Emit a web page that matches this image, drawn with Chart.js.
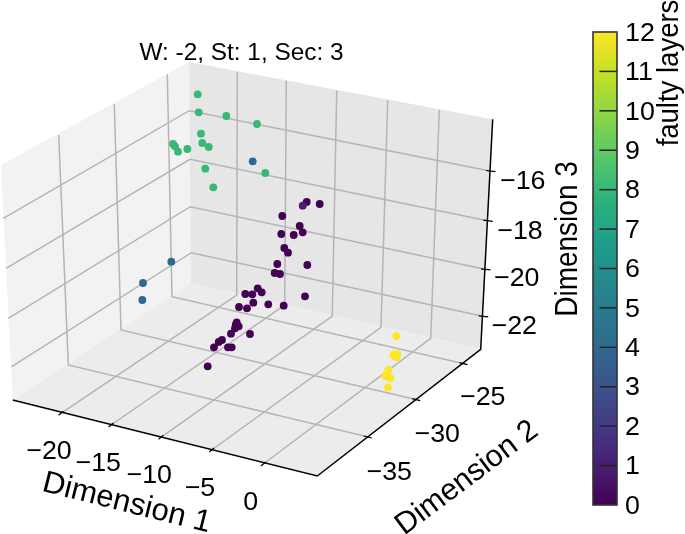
<!DOCTYPE html>
<html><head><meta charset="utf-8">
<style>html,body{margin:0;padding:0;background:#fff}canvas{display:block}</style>
<script src="https://cdn.jsdelivr.net/npm/chart.js@4"></script>
</head><body><canvas id="c" width="685" height="534" style="width:685px;height:534px"></canvas>
<script>
// Picture-plane readings of every point (the 3D scene is shown as projected on the page)
const pointX = [197.7,198.7,226.3,257,201,202.3,208.7,173,175,178,187.3,205.3,213.3,265.3,
  252.7,171.3,143,142.3,
  306.7,302.7,319.7,282.3,299.7,302.7,293.7,281.3,284.3,288,277.3,307.3,274.7,280,257.7,261.7,245.3,252.3,305,253.3,268.3,283.7,239,247,236.7,235.7,238.7,235,231,250,222,218.7,214,228,231.7,207.7,
  396.3,393.3,397.3,396.7,395.3,388.3,385.3,390.3,388];
const pointY = [94.3,112.3,116,124,133.7,143,147,144,146.3,151.7,149,168.7,187.3,173,
  161.3,261.7,283,300,
  202,205.7,204,216,226,232.3,235,234,248,252.7,264,265,273,274,288.3,292.3,294,294.3,296.3,302.7,304.3,305.7,307,308.3,322.3,325,326.3,328.3,333.7,334,340,342,347.3,347.3,347.3,366.3,
  336,354.7,354,357.3,355.7,370,376,378,387.3];
const faultyLayers = [8,8,8,8,8,8,8,8,8,8,8,8,8,8,
  4,4,4,4,
  0,1,0,0,0,0,0,0,0,0,0,0,0,0,0,0,0,0,0,0,0,0,0,0,0,0,0,0,0,0,0,0,0,0,0,0,
  12,12,12,12,12,12,12,12,12];
const dim1Ticks = ["\u221220","\u221215","\u221210","\u22125","0"];
const dim2Ticks = ["\u221235","\u221230","\u221225"];
const dim3Ticks = ["\u221216","\u221218","\u221220","\u221222"];
const viridis = ["#440154","#482173","#433e85","#38598c","#2d708e","#25858e","#1e9b8a","#2ab07f","#52c569","#86d549","#c2df23","#fde725"];

const FONT = '"Liberation Sans", Arial, sans-serif';
function hex(c){return [1,3,5].map(i=>parseInt(c.substr(i,2),16));}
function colorAt(v){
  const t = v/12*(viridis.length-1), i = Math.min(Math.floor(t),viridis.length-2), f = t-i;
  const a = hex(viridis[i]), b = hex(viridis[i+1]);
  return 'rgb('+a.map((p,k)=>Math.round(p+(b[k]-p)*f)).join(',')+')';
}

// Frame of the 3D box in page coordinates
const frame = {
  left:[[1,165],[189,62],[191,283],[12.7,400]],
  back:[[189,62],[492.7,119.3],[480.7,349.3],[191,283]],
  floor:[[12.7,400],[191,283],[480.7,349.3],[317.3,476]],
  axis:[[12.7,400],[317.3,476],[480.7,349.3],[492.7,119.3]],
  d1Edge:[[61,413.3],[111,425],[161,437.3],[211.7,450],[263.3,464]],
  d1Floor:[[236.7,295],[284.7,305],[332.3,316],[381,327.3],[430.7,338.3]],
  d1Top:[[237.3,71.7],[286.3,80.7],[336.7,90.7],[387.7,100.3],[439.3,110]],
  d2Edge:[[369.3,437.3],[417.7,400],[465,364]],
  d2Floor:[[68.3,365],[121,330],[172,296.7]],
  d2Top:[[58.7,135],[114.3,104],[167.3,74.3]],
  d3Right:[[490,171],[487.3,220.7],[485,269.3],[482.7,316.3]],
  d3Corner:[[189.3,110.7],[190,159.3],[190.3,206.7],[191.3,252.7]],
  d3Left:[[3.3,218.3],[6,268.3],[8.3,318.3],[11.7,366.7]],
  d1Lab:[[49,452],[98.3,463.7],[149.3,476.3],[200,489],[250.7,502.7]],
  d2Lab:[[389.3,472.7],[437.3,434.7],[482.7,398]],
  d3Lab:[[522.7,182],[520,232],[516.7,279.3],[514.3,327]]
};

const scene = {
  id:'scene',
  beforeDatasetsDraw(chart){
    const {ctx,scales:{x,y,cb}} = chart;
    const P = p=>[x.getPixelForValue(p[0]),y.getPixelForValue(p[1])];
    const poly=(pts,col)=>{ctx.beginPath();pts.map(P).forEach((p,i)=>i?ctx.lineTo(p[0],p[1]):ctx.moveTo(p[0],p[1]));ctx.closePath();ctx.fillStyle=col;ctx.fill();};
    const path=(pts,col,w)=>{ctx.beginPath();pts.map(P).forEach((p,i)=>i?ctx.lineTo(p[0],p[1]):ctx.moveTo(p[0],p[1]));ctx.strokeStyle=col;ctx.lineWidth=w;ctx.stroke();};
    ctx.save();
    poly(frame.left,'#f2f2f2');poly(frame.back,'#e6e6e6');poly(frame.floor,'#ececec');
    const g='#b4b4b4', gw=1.5;
    frame.d1Edge.forEach((e,i)=>path([e,frame.d1Floor[i],frame.d1Top[i]],g,gw));
    frame.d2Edge.forEach((e,i)=>path([e,frame.d2Floor[i],frame.d2Top[i]],g,gw));
    frame.d3Right.forEach((e,i)=>path([e,frame.d3Corner[i],frame.d3Left[i]],g,gw));
    path(frame.axis,'#000',1.5);
    frame.d1Edge.forEach(e=>path([[e[0]-2.4,e[1]+2],[e[0]+2.4,e[1]-2]],'#000',1.2));
    frame.d2Edge.forEach(e=>path([[e[0]-5.5,e[1]-1.3],[e[0]+2.5,e[1]+.7]],'#000',1.2));
    frame.d3Right.forEach(e=>path([[e[0]-4,e[1]-.5],[e[0]+5.5,e[1]+.6]],'#000',1.2));

    // colour bar
    const tx=x.getPixelForValue(593), rx=x.getPixelForValue(617);
    const top=cb.getPixelForValue(12), bot=cb.getPixelForValue(0);
    const gr=ctx.createLinearGradient(0,bot,0,top);
    for(let v=0;v<=12;v+=.25) gr.addColorStop(v/12,colorAt(v));
    ctx.fillStyle=gr;ctx.fillRect(tx,top,rx-tx,bot-top);
    ctx.strokeStyle='#222';ctx.lineWidth=1.5;
    for(let v=1;v<12;v++){const py=cb.getPixelForValue(v);ctx.beginPath();ctx.moveTo(rx,py);ctx.lineTo(rx-17.5,py);ctx.stroke();}
    ctx.strokeStyle='#333';ctx.lineWidth=1.6;ctx.strokeRect(tx,top,rx-tx,bot-top);

    // text, with a per-label horizontal stretch
    ctx.fillStyle='#000';ctx.textAlign='center';ctx.textBaseline='middle';
    const text=(s,cx,cy,size,rot,sx)=>{ctx.save();ctx.translate(cx,cy);ctx.scale(sx||1,1);ctx.rotate((rot||0)*Math.PI/180);ctx.font=size+'px '+FONT;ctx.fillText(s,0,0);ctx.restore();};
    text('W: -2, St: 1, Sec: 3',241.5,53,24.4);
    dim1Ticks.forEach((s,i)=>text(s,frame.d1Lab[i][0],frame.d1Lab[i][1],26,0,1.03));
    dim2Ticks.forEach((s,i)=>text(s,frame.d2Lab[i][0],frame.d2Lab[i][1],26,0,1.03));
    dim3Ticks.forEach((s,i)=>text(s,frame.d3Lab[i][0],frame.d3Lab[i][1],26,0,1.03));
    text('Dimension 1',126.7,503.3,31,14);
    text('Dimension 2',467,478,30.5,-37);
    text('Dimension 3',569,239,28,-90,1.09);
    text('faulty layers',670,73,27.5,-90,1.05);
    ctx.textAlign='left';
    cb.ticks.forEach(t=>{
      ctx.save();ctx.translate(625,cb.getPixelForValue(t.value)+1.5);ctx.scale(1.03,1);
      ctx.font='26px '+FONT;ctx.fillText(String(t.value),0,0);ctx.restore();
    });
    ctx.restore();
  }
};

new Chart(document.getElementById('c'),{
  type:'scatter',
  data:{datasets:[{
    data:pointX.map((v,i)=>({x:v,y:pointY[i]})),
    pointBackgroundColor:faultyLayers.map(colorAt),
    pointBorderWidth:0,
    pointRadius:3.9,
    clip:false
  }]},
  options:{
    responsive:false,animation:false,devicePixelRatio:1,
    layout:{autoPadding:false,padding:{top:32,bottom:29,left:0,right:0}},
    plugins:{legend:{display:false},tooltip:{enabled:false}},
    scales:{
      x:{type:'linear',min:0,max:617,display:false},
      y:{type:'linear',min:32,max:505,reverse:true,display:false},
      cb:{type:'linear',position:'right',min:0,max:12,
        afterFit(s){s.width=68;},
        grid:{display:false,drawTicks:false},border:{display:false},
        ticks:{display:false,stepSize:1,autoSkip:false,maxRotation:0}}
    }
  },
  plugins:[scene]
});
</script></body></html>
